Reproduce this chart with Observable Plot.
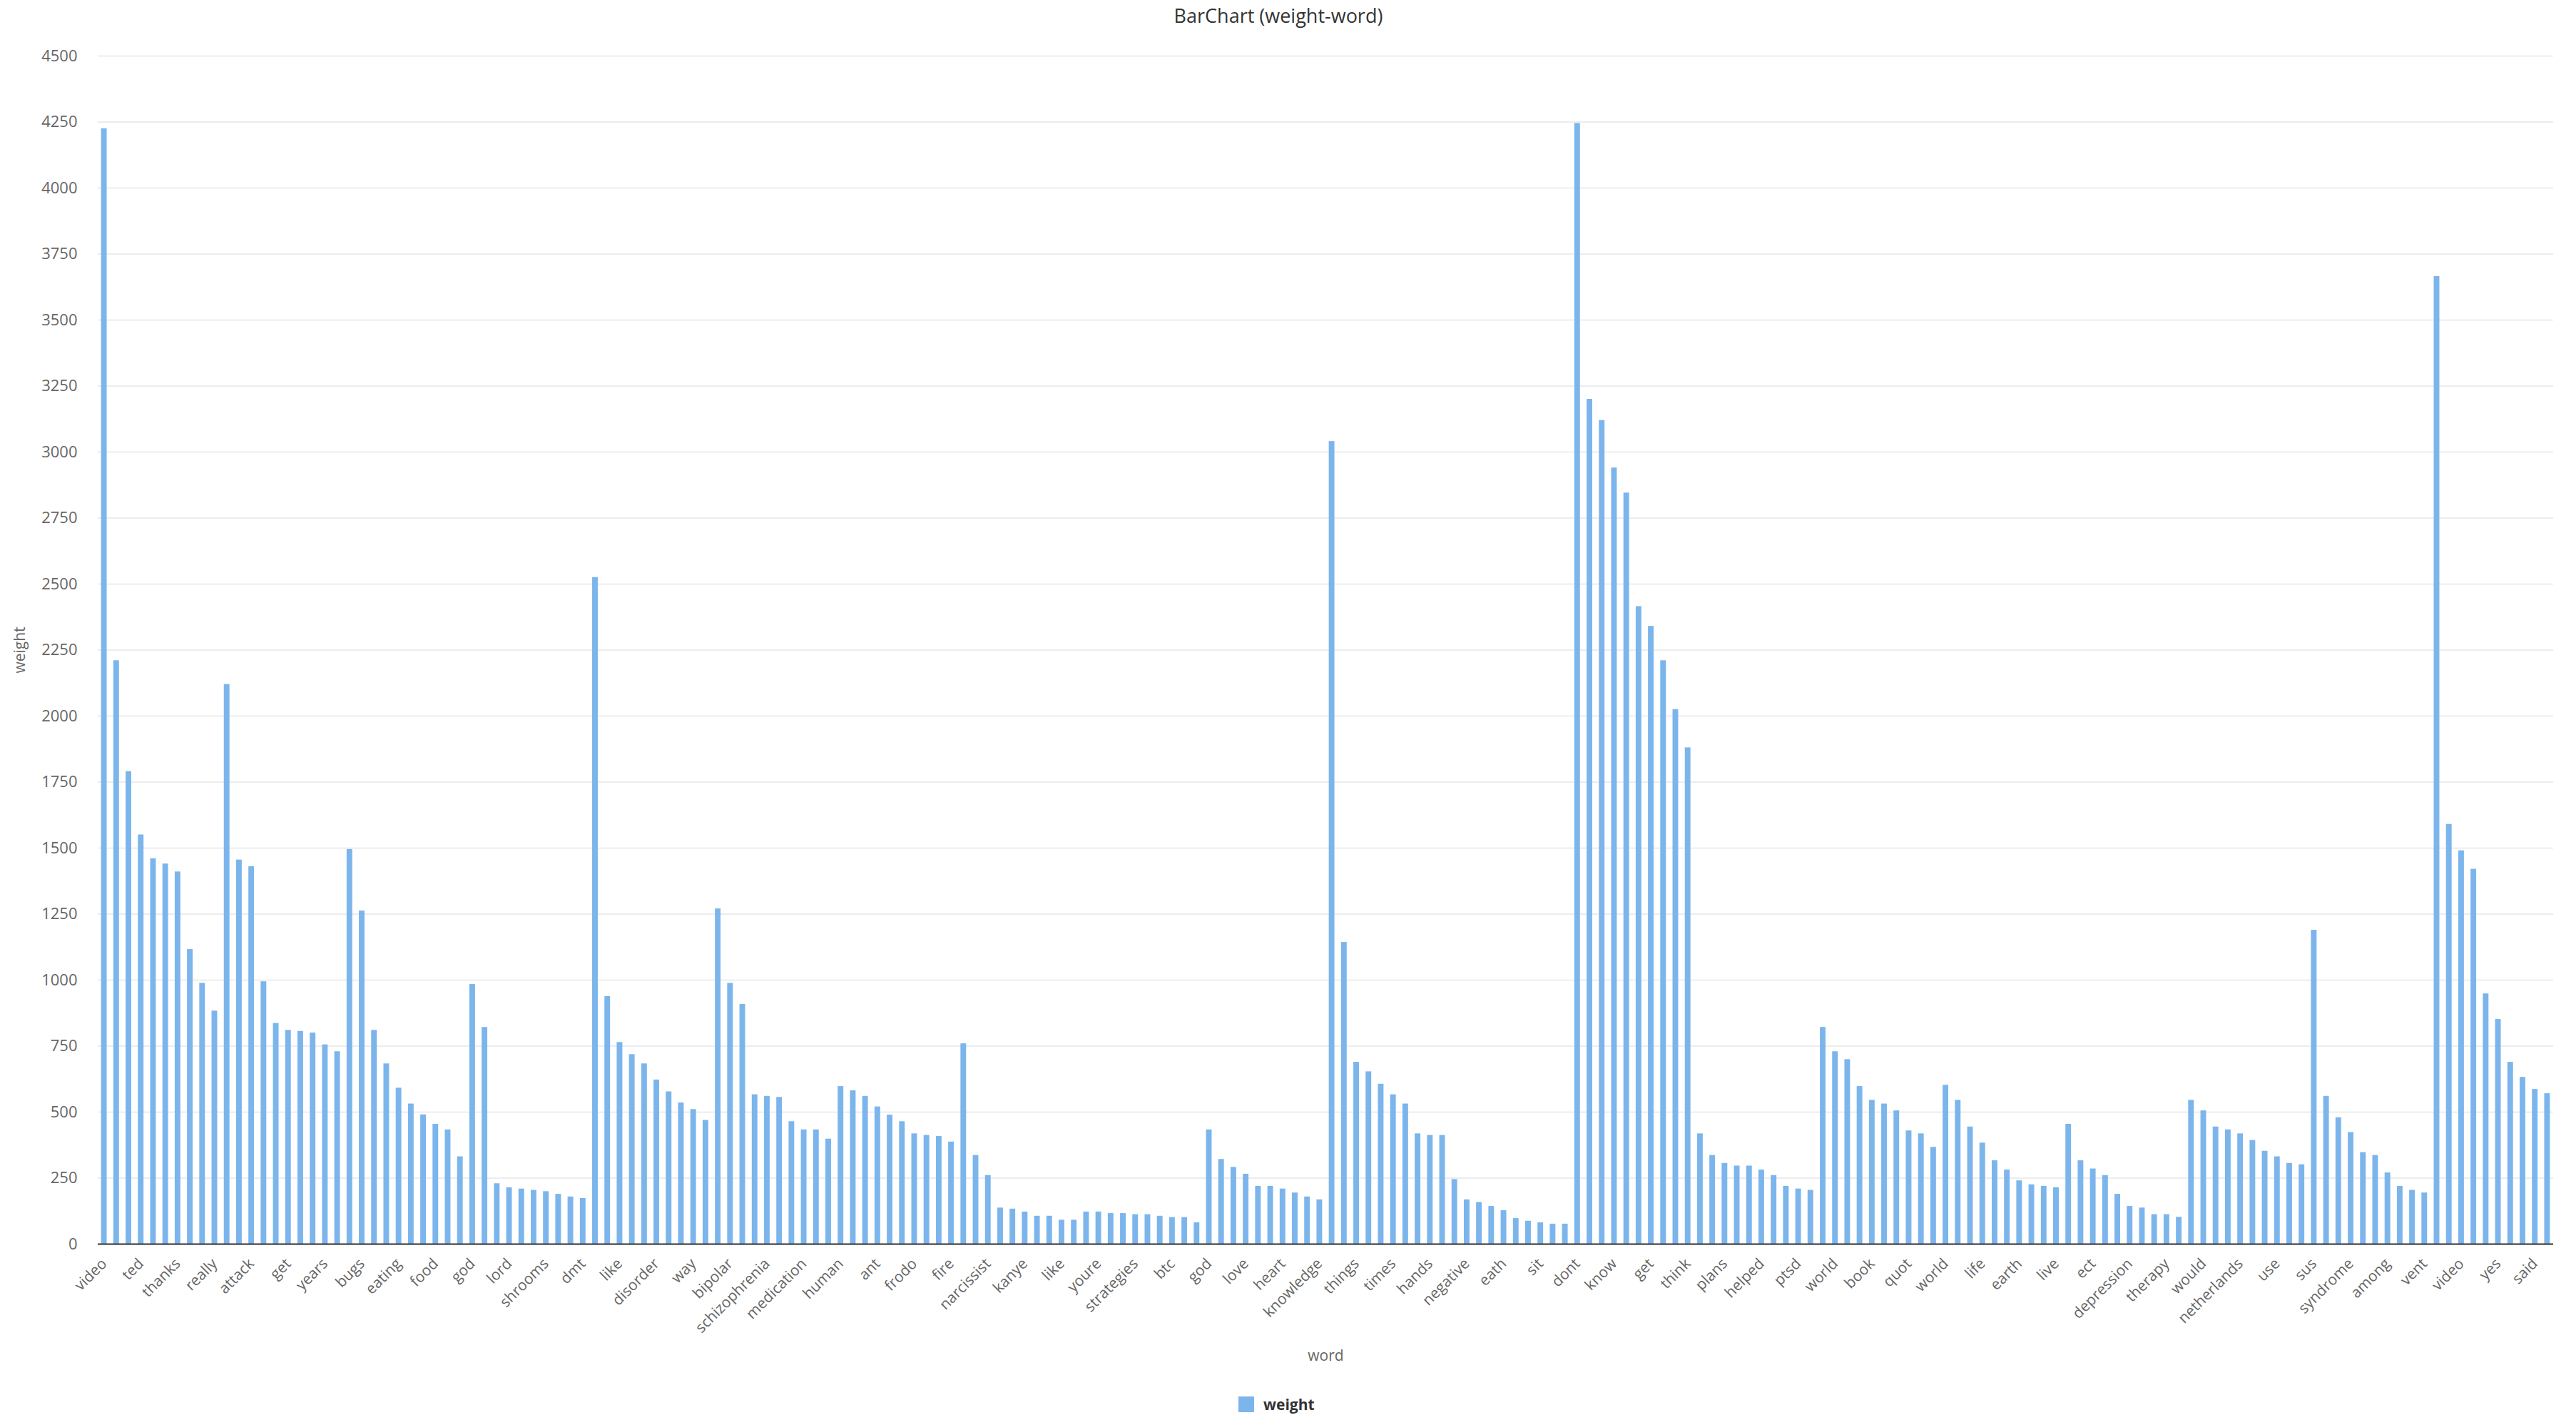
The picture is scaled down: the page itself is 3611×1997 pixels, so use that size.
<!DOCTYPE html>
<html>
<head>
<meta charset="utf-8">
<script src="https://cdn.jsdelivr.net/npm/d3@7"></script>
<script src="https://cdn.jsdelivr.net/npm/@observablehq/plot@0.6"></script>
<style>
  body { margin: 0; background: #fff; font-family: "Open Sans", sans-serif; }
  #wrap { position: relative; width: 3611px; height: 1997px; overflow: hidden; }
  #title { position: absolute; left: 0; width: 3584px; top: 3px; text-align: center; font-size: 27px; color: #333; }
  #legend { position: absolute; top: 1953px; left: 1736px; height: 29px; display: flex; align-items: center; font-size: 21px; font-weight: bold; color: #333; }
  #legend .sw { width: 22px; height: 22px; background: #7cb5ec; margin-right: 13px; display: inline-block; }
</style>
</head>
<body>
<div id="wrap">
  <div id="chart"></div>
  <div id="title">BarChart (weight-word)</div>
  <div id="legend"><span class="sw"></span><span>weight</span></div>
</div>
<script>
// Every third word is shown as a tick label (indices 0, 3, 6, ...)
const tickLabels = ["video","ted","thanks","really","attack","get","years","bugs","eating","food",
  "god","lord","shrooms","dmt","like","disorder","way","bipolar","schizophrenia","medication",
  "human","ant","frodo","fire","narcissist","kanye","like","youre","strategies","btc",
  "god","love","heart","knowledge","things","times","hands","negative","eath","sit",
  "dont","know","get","think","plans","helped","ptsd","world","book","quot",
  "world","life","earth","live","ect","depression","therapy","would","netherlands","use",
  "sus","syndrome","among","vent","video","yes","said"];

const weights = [
  4225,2210,1790,1550,1460,1440,1410,1116,988,883,
  2120,1455,1430,994,836,810,806,800,755,729,
  1495,1262,810,683,591,531,490,454,433,331,
  984,821,229,214,209,204,199,189,179,173,
  2525,938,764,718,683,622,577,535,510,469,
  1270,988,908,566,560,556,464,433,433,398,
  597,581,560,520,489,464,418,412,408,387,
  759,336,260,137,133,122,106,106,91,91,
  122,122,116,116,112,112,106,101,101,81,
  433,321,291,265,219,219,209,194,179,168,
  3040,1143,689,653,606,566,531,418,412,412,
  245,168,158,143,127,97,87,81,76,76,
  4245,3200,3120,2940,2845,2415,2340,2210,2025,1880,
  418,336,306,296,296,281,260,219,209,204,
  821,729,699,597,545,531,505,429,418,367,
  602,545,444,383,316,281,240,225,219,214,
  454,316,285,260,189,143,137,112,112,102,
  545,505,444,433,418,393,352,331,306,301,
  1189,560,479,423,347,336,270,219,204,194,
  3665,1590,1490,1420,948,851,689,632,586,570
];

const yTicks = d3.range(0, 4501, 250);
const rows = weights.map((v, i) => ({i, v}));
const tickIdx = tickLabels.map((_, k) => k * 3);

const H = 1935;
const Y0 = 1743;
const chart = Plot.plot({
  width: 3611,
  height: H,
  marginLeft: 137,
  marginRight: 32,
  marginTop: 78,
  marginBottom: H - Y0,
  style: {fontFamily: "Open Sans, sans-serif", fontSize: "21px", color: "#666", background: "#fff"},
  x: {type: "band", domain: d3.range(weights.length), paddingInner: 0.54, paddingOuter: 0.27, label: null},
  y: {domain: [0, 4500], label: null},
  marks: [
    Plot.gridY(yTicks, {stroke: "#e6e6e6", strokeOpacity: 1, strokeWidth: 1.5}),
    Plot.axisY(yTicks, {tickSize: 0, tickPadding: 29, tickFormat: d => String(d), label: null, fill: "#666", fontSize: 22}),
    Plot.barY(rows, {x: "i", y: "v", fill: "#7cb5ec"}),
    Plot.ruleY([0], {stroke: "#333", strokeWidth: 2}),
    Plot.axisX(tickIdx, {tickSize: 0, tickPadding: 24, tickRotate: -45, tickFormat: i => tickLabels[i / 3], label: null, fill: "#666"}),
    Plot.text(["weight"], {text: d => d, frameAnchor: "left", dx: -109, rotate: -90, textAnchor: "middle", fill: "#666"}),
    Plot.text(["word"], {text: d => d, frameAnchor: "bottom", dy: 157, lineAnchor: "middle", fill: "#666"})
  ]
});
document.getElementById("chart").appendChild(chart);
</script>
</body>
</html>
